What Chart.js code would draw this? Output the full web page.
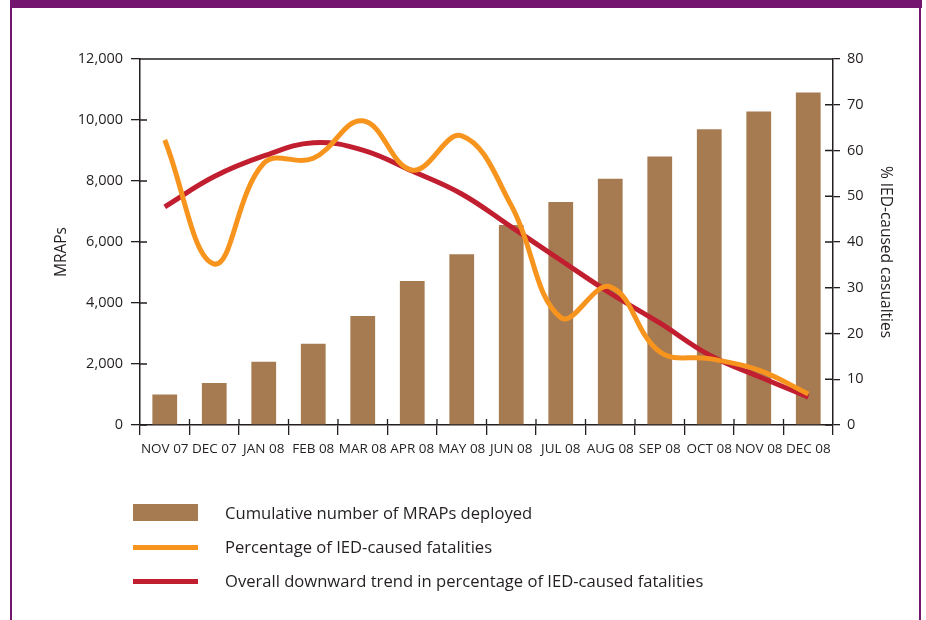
<!DOCTYPE html>
<html>
<head>
<meta charset="utf-8">
<script src="https://cdn.jsdelivr.net/npm/chart.js@4/dist/chart.umd.min.js"></script>
<style>
  html, body { margin: 0; padding: 0; background: #ffffff; }
  #wrap { position: relative; width: 926px; height: 620px; overflow: hidden; background: #fff; font-family: "Open Sans", "Noto Sans", sans-serif; color: #231f20; }
  #band { position: absolute; left: 10px; top: 0; width: 912px; height: 8px; background: #74166f; }
  #frameL { position: absolute; left: 10px; top: 0; width: 2px; height: 620px; background: #74166f; }
  #frameR { position: absolute; left: 919px; top: 0; width: 2px; height: 620px; background: #74166f; }
  #chartBox { position: absolute; left: 0; top: 0; width: 926px; height: 620px; }
  .leg { position: absolute; left: 133px; width: 740px; height: 34px; }
  .sw { position: absolute; left: 0; width: 65px; }
  .lt { position: absolute; left: 92px; top: 0; height: 34px; line-height: 34px; font-size: 16.6px; white-space: nowrap; }
</style>
</head>
<body>
<div id="wrap">
  <div id="chartBox"><canvas id="c" width="926" height="620"></canvas></div>
  <div id="band"></div>
  <div id="frameL"></div>
  <div id="frameR"></div>
  <div class="leg" style="top:496px"><div class="sw" id="sw0" style="top:8px;height:17px"></div><div class="lt" id="lt0"></div></div>
  <div class="leg" style="top:530px"><div class="sw" id="sw1" style="top:14.5px;height:5px"></div><div class="lt" id="lt1"></div></div>
  <div class="leg" style="top:564px"><div class="sw" id="sw2" style="top:14.5px;height:5px"></div><div class="lt" id="lt2"></div></div>
</div>
<script>
// ---- data ----
const months = ['NOV 07','DEC 07','JAN 08','FEB 08','MAR 08','APR 08','MAY 08','JUN 08','JUL 08','AUG 08','SEP 08','OCT 08','NOV 08','DEC 08'];
const mrapsDeployed = [1000, 1380, 2070, 2660, 3570, 4720, 5600, 6560, 7310, 8070, 8800, 9700, 10280, 10900];
const iedFatalityPct = [62.3, 35.2, 57.2, 58.3, 66.5, 55.7, 63.2, 48, 23.5, 30.2, 16, 14.5, 12, 6.8];
const iedTrendPct = [47.7, 54.3, 58.8, 61.7, 60.1, 55.5, 50.5, 43.3, 36, 28.8, 22.3, 15.3, 10.6, 6.1];
const seriesNames = ['Cumulative number of MRAPs deployed', 'Percentage of IED-caused fatalities', 'Overall downward trend in percentage of IED-caused fatalities'];
const leftTicks = [0, 2000, 4000, 6000, 8000, 10000, 12000];
const rightTicks = [0, 10, 20, 30, 40, 50, 60, 70, 80];
const leftTitle = 'MRAPs';
const rightTitle = '% IED-caused casualties';

const BAR = '#a67b51', ORANGE = '#f7941e', RED = '#c11f30', INK = '#231f20';
const FONT = '"Open Sans", "Noto Sans", sans-serif';

// legend (HTML)
[BAR, ORANGE, RED].forEach((c, i) => {
  document.getElementById('sw' + i).style.background = c;
  document.getElementById('lt' + i).textContent = seriesNames[i];
});

const crossTicks = {
  id: 'crossTicks',
  afterDraw(chart) {
    const ctx = chart.ctx, a = chart.chartArea;
    const x = chart.scales.x, yl = chart.scales.y, yr = chart.scales.y1;
    ctx.save();
    ctx.strokeStyle = INK;
    ctx.lineWidth = 1.3;
    ctx.beginPath();
    ctx.moveTo(a.left, a.top); ctx.lineTo(a.right, a.top);
    leftTicks.forEach(v => { const p = yl.getPixelForValue(v); ctx.moveTo(a.left, p); ctx.lineTo(a.left + 7, p); });
    rightTicks.forEach(v => { const p = yr.getPixelForValue(v); ctx.moveTo(a.right, p); ctx.lineTo(a.right - 8, p); });
    const step = x.getPixelForValue(1) - x.getPixelForValue(0);
    for (let i = 0; i < months.length - 1; i++) {
      const p = x.getPixelForValue(i) + step / 2;
      ctx.moveTo(p, a.bottom); ctx.lineTo(p, a.bottom - 6);
    }
    ctx.stroke();
    // axis titles
    const midY = (a.top + a.bottom) / 2 + 10;
    ctx.fillStyle = INK;
    ctx.font = '15.5px ' + FONT;
    ctx.textAlign = 'center';
    ctx.textBaseline = 'middle';
    ctx.save(); ctx.translate(62, midY); ctx.rotate(-Math.PI / 2); ctx.fillText(leftTitle, 0, 0); ctx.restore();
    ctx.save(); ctx.translate(885, midY); ctx.rotate(Math.PI / 2); ctx.fillText(rightTitle, 0, 0); ctx.restore();
    ctx.restore();
  }
};

Chart.defaults.font.family = FONT;
Chart.defaults.color = INK;

new Chart(document.getElementById('c'), {
  type: 'bar',
  data: {
    labels: months,
    datasets: [
      { type: 'line', label: seriesNames[1], data: iedFatalityPct, yAxisID: 'y1', borderColor: ORANGE, borderWidth: 5, pointRadius: 0, tension: 0.4, order: 1, borderCapStyle: 'butt' },
      { type: 'line', label: seriesNames[2], data: iedTrendPct, yAxisID: 'y1', borderColor: RED, borderWidth: 5, pointRadius: 0, tension: 0.4, order: 2 },
      { type: 'bar', label: seriesNames[0], data: mrapsDeployed, yAxisID: 'y', backgroundColor: BAR, barPercentage: 0.5, categoryPercentage: 1.0, order: 3 }
    ]
  },
  options: {
    responsive: false,
    animation: false,
    events: [],
    layout: { padding: { left: 0, right: 32, top: 59, bottom: 160 } },
    plugins: { legend: { display: false }, tooltip: { enabled: false }, title: { display: false } },
    scales: {
      x: {
        offset: true,
        grid: { offset: true, drawOnChartArea: false, color: INK, lineWidth: 1.3, tickLength: 10 },
        border: { color: INK, width: 1.5 },
        ticks: { font: { size: 13.5 }, color: INK, padding: 6, maxRotation: 0, autoSkip: false },
        afterFit(s) { s.height = 35; }
      },
      y: {
        position: 'left', min: 0, max: 12000,
        afterBuildTicks(s) { s.ticks = leftTicks.map(v => ({ value: v })); },
        grid: { drawOnChartArea: false, color: INK, lineWidth: 1.3, tickLength: 9 },
        border: { color: INK, width: 1.5 },
        ticks: { font: { size: 14.5 }, color: INK, padding: 8, callback: v => v.toLocaleString('en-US') },
        afterFit(s) { s.width = 140; }
      },
      y1: {
        position: 'right', min: 0, max: 80,
        afterBuildTicks(s) { s.ticks = rightTicks.map(v => ({ value: v })); },
        grid: { drawOnChartArea: false, color: INK, lineWidth: 1.3, tickLength: 7 },
        border: { color: INK, width: 1.5 },
        ticks: { font: { size: 14.5 }, color: INK, padding: 7 },
        afterFit(s) { s.width = 61; }
      }
    }
  },
  plugins: [crossTicks]
});
</script>
</body>
</html>
